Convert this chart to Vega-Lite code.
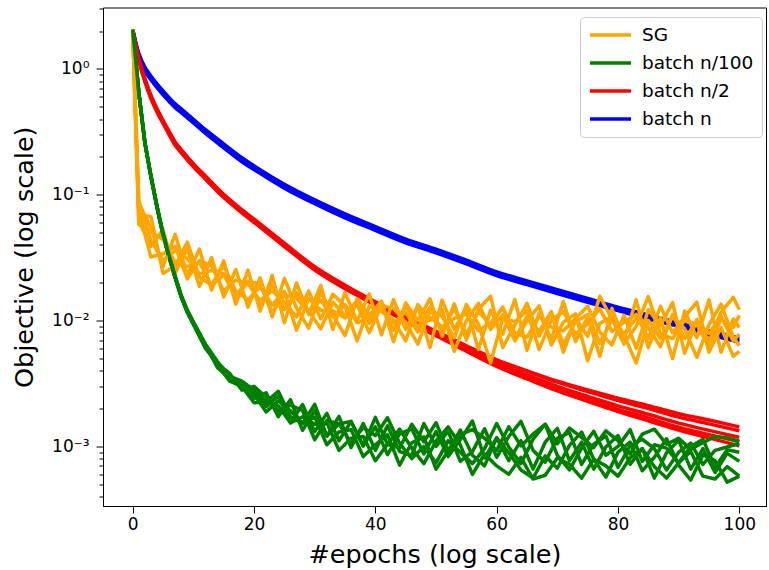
{
"$schema":"https://vega.github.io/schema/vega-lite/v6.json",
"width":663,"height":498.5,
"autosize":{"type":"none"},
"padding":{"left":103,"top":7.5,"right":3,"bottom":64},
"config":{"font":"DejaVu Sans","view":{"stroke":"black","strokeWidth":1},"axis":{"grid":false,"domainColor":"black","tickColor":"black","labelColor":"black","titleColor":"black","labelFont":"DejaVu Sans","titleFont":"DejaVu Sans","titleFontWeight":"normal","tickWidth":1,"domainWidth":1}},
"data":{"values":[
{"s":"SG","r":1,"x":0,"y":2.05},{"s":"SG","r":1,"x":1,"y":0.085},{"s":"SG","r":1,"x":3,"y":0.055},{"s":"SG","r":1,"x":5,"y":0.027},{"s":"SG","r":1,"x":7,"y":0.0485},{"s":"SG","r":1,"x":9,"y":0.023},{"s":"SG","r":1,"x":11,"y":0.037},{"s":"SG","r":1,"x":13,"y":0.0175},{"s":"SG","r":1,"x":15,"y":0.0298},{"s":"SG","r":1,"x":17,"y":0.0135},{"s":"SG","r":1,"x":19,"y":0.0252},{"s":"SG","r":1,"x":21,"y":0.0119},{"s":"SG","r":1,"x":23,"y":0.0229},{"s":"SG","r":1,"x":25,"y":0.0096},{"s":"SG","r":1,"x":27,"y":0.0199},{"s":"SG","r":1,"x":29,"y":0.0112},{"s":"SG","r":1,"x":31,"y":0.019},{"s":"SG","r":1,"x":33,"y":0.0085},{"s":"SG","r":1,"x":35,"y":0.0167},{"s":"SG","r":1,"x":37,"y":0.0099},{"s":"SG","r":1,"x":39,"y":0.0163},{"s":"SG","r":1,"x":41,"y":0.0077},{"s":"SG","r":1,"x":43,"y":0.0147},{"s":"SG","r":1,"x":45,"y":0.0085},{"s":"SG","r":1,"x":47,"y":0.013},{"s":"SG","r":1,"x":49,"y":0.0061},{"s":"SG","r":1,"x":51,"y":0.0145},{"s":"SG","r":1,"x":53,"y":0.0085},{"s":"SG","r":1,"x":55,"y":0.0127},{"s":"SG","r":1,"x":57,"y":0.0059},{"s":"SG","r":1,"x":59,"y":0.0121},{"s":"SG","r":1,"x":61,"y":0.0078},{"s":"SG","r":1,"x":63,"y":0.0147},{"s":"SG","r":1,"x":65,"y":0.0058},{"s":"SG","r":1,"x":67,"y":0.0115},{"s":"SG","r":1,"x":69,"y":0.0071},{"s":"SG","r":1,"x":71,"y":0.0142},{"s":"SG","r":1,"x":73,"y":0.0068},{"s":"SG","r":1,"x":75,"y":0.0107},{"s":"SG","r":1,"x":77,"y":0.0052},{"s":"SG","r":1,"x":79,"y":0.0125},{"s":"SG","r":1,"x":81,"y":0.007},{"s":"SG","r":1,"x":83,"y":0.0146},{"s":"SG","r":1,"x":85,"y":0.0061},{"s":"SG","r":1,"x":87,"y":0.0106},{"s":"SG","r":1,"x":89,"y":0.005},{"s":"SG","r":1,"x":91,"y":0.0119},{"s":"SG","r":1,"x":93,"y":0.0073},{"s":"SG","r":1,"x":95,"y":0.0146},{"s":"SG","r":1,"x":97,"y":0.0056},{"s":"SG","r":1,"x":99,"y":0.0103},{"s":"SG","r":1,"x":100,"y":0.0088},
{"s":"batch n/100","r":1,"x":0,"y":2.05},{"s":"batch n/100","r":1,"x":1,"y":0.65},{"s":"batch n/100","r":1,"x":2,"y":0.26},{"s":"batch n/100","r":1,"x":3,"y":0.14},{"s":"batch n/100","r":1,"x":4,"y":0.08},{"s":"batch n/100","r":1,"x":5,"y":0.048},{"s":"batch n/100","r":1,"x":6,"y":0.032},{"s":"batch n/100","r":1,"x":7,"y":0.022},{"s":"batch n/100","r":1,"x":8,"y":0.0155},{"s":"batch n/100","r":1,"x":9,"y":0.0118},{"s":"batch n/100","r":1,"x":10,"y":0.0096},{"s":"batch n/100","r":1,"x":12,"y":0.0063},{"s":"batch n/100","r":1,"x":14,"y":0.0043},{"s":"batch n/100","r":1,"x":16,"y":0.0037},{"s":"batch n/100","r":1,"x":18,"y":0.0029},{"s":"batch n/100","r":1,"x":20,"y":0.0028},{"s":"batch n/100","r":1,"x":22,"y":0.00207},{"s":"batch n/100","r":1,"x":24,"y":0.00252},{"s":"batch n/100","r":1,"x":26,"y":0.00154},{"s":"batch n/100","r":1,"x":28,"y":0.00215},{"s":"batch n/100","r":1,"x":30,"y":0.00131},{"s":"batch n/100","r":1,"x":32,"y":0.00183},{"s":"batch n/100","r":1,"x":34,"y":0.00111},{"s":"batch n/100","r":1,"x":36,"y":0.00158},{"s":"batch n/100","r":1,"x":38,"y":0.00101},{"s":"batch n/100","r":1,"x":40,"y":0.00143},{"s":"batch n/100","r":1,"x":42,"y":0.00086},{"s":"batch n/100","r":1,"x":44,"y":0.00126},{"s":"batch n/100","r":1,"x":46,"y":0.00138},{"s":"batch n/100","r":1,"x":48,"y":0.00087},{"s":"batch n/100","r":1,"x":50,"y":0.00131},{"s":"batch n/100","r":1,"x":52,"y":0.00083},{"s":"batch n/100","r":1,"x":54,"y":0.00113},{"s":"batch n/100","r":1,"x":56,"y":0.00159},{"s":"batch n/100","r":1,"x":58,"y":0.00081},{"s":"batch n/100","r":1,"x":60,"y":0.00117},{"s":"batch n/100","r":1,"x":62,"y":0.00077},{"s":"batch n/100","r":1,"x":64,"y":0.00111},{"s":"batch n/100","r":1,"x":66,"y":0.00066},{"s":"batch n/100","r":1,"x":68,"y":0.00108},{"s":"batch n/100","r":1,"x":70,"y":0.00139},{"s":"batch n/100","r":1,"x":72,"y":0.00077},{"s":"batch n/100","r":1,"x":74,"y":0.00108},{"s":"batch n/100","r":1,"x":76,"y":0.00066},{"s":"batch n/100","r":1,"x":78,"y":0.00099},{"s":"batch n/100","r":1,"x":80,"y":0.00122},{"s":"batch n/100","r":1,"x":82,"y":0.00072},{"s":"batch n/100","r":1,"x":84,"y":0.00096},{"s":"batch n/100","r":1,"x":86,"y":0.00056},{"s":"batch n/100","r":1,"x":88,"y":0.00089},{"s":"batch n/100","r":1,"x":90,"y":0.00112},{"s":"batch n/100","r":1,"x":92,"y":0.00066},{"s":"batch n/100","r":1,"x":94,"y":0.00096},{"s":"batch n/100","r":1,"x":96,"y":0.00062},{"s":"batch n/100","r":1,"x":98,"y":0.00088},{"s":"batch n/100","r":1,"x":100,"y":0.00076},
{"s":"batch n/2","r":1,"x":0,"y":2.05},{"s":"batch n/2","r":1,"x":1,"y":1.164},{"s":"batch n/2","r":1,"x":2,"y":0.795},{"s":"batch n/2","r":1,"x":3,"y":0.582},{"s":"batch n/2","r":1,"x":4,"y":0.456},{"s":"batch n/2","r":1,"x":5,"y":0.369},{"s":"batch n/2","r":1,"x":6,"y":0.301},{"s":"batch n/2","r":1,"x":7,"y":0.247},{"s":"batch n/2","r":1,"x":8,"y":0.215},{"s":"batch n/2","r":1,"x":10,"y":0.167},{"s":"batch n/2","r":1,"x":12,"y":0.133},{"s":"batch n/2","r":1,"x":15,"y":0.095},{"s":"batch n/2","r":1,"x":18,"y":0.0718},{"s":"batch n/2","r":1,"x":21,"y":0.0553},{"s":"batch n/2","r":1,"x":25,"y":0.0388},{"s":"batch n/2","r":1,"x":30,"y":0.0252},{"s":"batch n/2","r":1,"x":35,"y":0.0179},{"s":"batch n/2","r":1,"x":40,"y":0.0133},{"s":"batch n/2","r":1,"x":45,"y":0.0099},{"s":"batch n/2","r":1,"x":50,"y":0.00758},{"s":"batch n/2","r":1,"x":55,"y":0.00571},{"s":"batch n/2","r":1,"x":60,"y":0.00432},{"s":"batch n/2","r":1,"x":65,"y":0.00344},{"s":"batch n/2","r":1,"x":70,"y":0.00276},{"s":"batch n/2","r":1,"x":75,"y":0.00228},{"s":"batch n/2","r":1,"x":80,"y":0.00189},{"s":"batch n/2","r":1,"x":85,"y":0.0016},{"s":"batch n/2","r":1,"x":90,"y":0.00135},{"s":"batch n/2","r":1,"x":95,"y":0.00117},{"s":"batch n/2","r":1,"x":100,"y":0.00101},
{"s":"batch n","r":1,"x":0,"y":2.05},{"s":"batch n","r":1,"x":1,"y":1.3},{"s":"batch n","r":1,"x":2,"y":1.0},{"s":"batch n","r":1,"x":3,"y":0.85},{"s":"batch n","r":1,"x":4,"y":0.735},{"s":"batch n","r":1,"x":5,"y":0.645},{"s":"batch n","r":1,"x":6,"y":0.572},{"s":"batch n","r":1,"x":7,"y":0.51},{"s":"batch n","r":1,"x":8,"y":0.465},{"s":"batch n","r":1,"x":10,"y":0.385},{"s":"batch n","r":1,"x":12,"y":0.318},{"s":"batch n","r":1,"x":15,"y":0.245},{"s":"batch n","r":1,"x":18,"y":0.19},{"s":"batch n","r":1,"x":21,"y":0.153},{"s":"batch n","r":1,"x":25,"y":0.117},{"s":"batch n","r":1,"x":30,"y":0.088},{"s":"batch n","r":1,"x":35,"y":0.068},{"s":"batch n","r":1,"x":40,"y":0.054},{"s":"batch n","r":1,"x":45,"y":0.043},{"s":"batch n","r":1,"x":50,"y":0.0358},{"s":"batch n","r":1,"x":55,"y":0.0292},{"s":"batch n","r":1,"x":60,"y":0.0236},{"s":"batch n","r":1,"x":65,"y":0.02},{"s":"batch n","r":1,"x":70,"y":0.017},{"s":"batch n","r":1,"x":75,"y":0.0145},{"s":"batch n","r":1,"x":80,"y":0.0124},{"s":"batch n","r":1,"x":85,"y":0.0107},{"s":"batch n","r":1,"x":90,"y":0.0093},{"s":"batch n","r":1,"x":95,"y":0.008},{"s":"batch n","r":1,"x":100,"y":0.007},
{"s":"SG","r":2,"x":0,"y":2.05},{"s":"SG","r":2,"x":1,"y":0.062},{"s":"SG","r":2,"x":3,"y":0.039},{"s":"SG","r":2,"x":5,"y":0.053},{"s":"SG","r":2,"x":7,"y":0.0238},{"s":"SG","r":2,"x":9,"y":0.0375},{"s":"SG","r":2,"x":11,"y":0.0187},{"s":"SG","r":2,"x":13,"y":0.0317},{"s":"SG","r":2,"x":15,"y":0.0154},{"s":"SG","r":2,"x":17,"y":0.0255},{"s":"SG","r":2,"x":19,"y":0.0128},{"s":"SG","r":2,"x":21,"y":0.0219},{"s":"SG","r":2,"x":23,"y":0.0107},{"s":"SG","r":2,"x":25,"y":0.0216},{"s":"SG","r":2,"x":27,"y":0.0126},{"s":"SG","r":2,"x":29,"y":0.0087},{"s":"SG","r":2,"x":31,"y":0.0167},{"s":"SG","r":2,"x":33,"y":0.0111},{"s":"SG","r":2,"x":35,"y":0.0076},{"s":"SG","r":2,"x":37,"y":0.0149},{"s":"SG","r":2,"x":39,"y":0.011},{"s":"SG","r":2,"x":41,"y":0.0143},{"s":"SG","r":2,"x":43,"y":0.0068},{"s":"SG","r":2,"x":45,"y":0.0138},{"s":"SG","r":2,"x":47,"y":0.01},{"s":"SG","r":2,"x":49,"y":0.0149},{"s":"SG","r":2,"x":51,"y":0.0075},{"s":"SG","r":2,"x":53,"y":0.0136},{"s":"SG","r":2,"x":55,"y":0.007},{"s":"SG","r":2,"x":57,"y":0.0123},{"s":"SG","r":2,"x":59,"y":0.0156},{"s":"SG","r":2,"x":61,"y":0.0061},{"s":"SG","r":2,"x":63,"y":0.0092},{"s":"SG","r":2,"x":65,"y":0.0137},{"s":"SG","r":2,"x":67,"y":0.0075},{"s":"SG","r":2,"x":69,"y":0.0116},{"s":"SG","r":2,"x":71,"y":0.0056},{"s":"SG","r":2,"x":73,"y":0.0104},{"s":"SG","r":2,"x":75,"y":0.013},{"s":"SG","r":2,"x":77,"y":0.0081},{"s":"SG","r":2,"x":79,"y":0.0064},{"s":"SG","r":2,"x":81,"y":0.011},{"s":"SG","r":2,"x":83,"y":0.006},{"s":"SG","r":2,"x":85,"y":0.0122},{"s":"SG","r":2,"x":87,"y":0.0091},{"s":"SG","r":2,"x":89,"y":0.0139},{"s":"SG","r":2,"x":91,"y":0.0055},{"s":"SG","r":2,"x":93,"y":0.0102},{"s":"SG","r":2,"x":95,"y":0.0068},{"s":"SG","r":2,"x":97,"y":0.0117},{"s":"SG","r":2,"x":99,"y":0.0153},{"s":"SG","r":2,"x":100,"y":0.0122},
{"s":"batch n/100","r":2,"x":0,"y":2.05},{"s":"batch n/100","r":2,"x":1,"y":0.65},{"s":"batch n/100","r":2,"x":2,"y":0.26},{"s":"batch n/100","r":2,"x":3,"y":0.14},{"s":"batch n/100","r":2,"x":4,"y":0.081},{"s":"batch n/100","r":2,"x":5,"y":0.049},{"s":"batch n/100","r":2,"x":6,"y":0.0325},{"s":"batch n/100","r":2,"x":7,"y":0.0222},{"s":"batch n/100","r":2,"x":8,"y":0.0157},{"s":"batch n/100","r":2,"x":9,"y":0.0117},{"s":"batch n/100","r":2,"x":10,"y":0.0094},{"s":"batch n/100","r":2,"x":12,"y":0.006},{"s":"batch n/100","r":2,"x":14,"y":0.0046},{"s":"batch n/100","r":2,"x":16,"y":0.0034},{"s":"batch n/100","r":2,"x":18,"y":0.0031},{"s":"batch n/100","r":2,"x":20,"y":0.0024},{"s":"batch n/100","r":2,"x":22,"y":0.00267},{"s":"batch n/100","r":2,"x":24,"y":0.00172},{"s":"batch n/100","r":2,"x":26,"y":0.00235},{"s":"batch n/100","r":2,"x":28,"y":0.00134},{"s":"batch n/100","r":2,"x":30,"y":0.00193},{"s":"batch n/100","r":2,"x":32,"y":0.00121},{"s":"batch n/100","r":2,"x":34,"y":0.00173},{"s":"batch n/100","r":2,"x":36,"y":0.00098},{"s":"batch n/100","r":2,"x":38,"y":0.00152},{"s":"batch n/100","r":2,"x":40,"y":0.00093},{"s":"batch n/100","r":2,"x":42,"y":0.00146},{"s":"batch n/100","r":2,"x":44,"y":0.00091},{"s":"batch n/100","r":2,"x":46,"y":0.00085},{"s":"batch n/100","r":2,"x":48,"y":0.00152},{"s":"batch n/100","r":2,"x":50,"y":0.001},{"s":"batch n/100","r":2,"x":52,"y":0.00132},{"s":"batch n/100","r":2,"x":54,"y":0.00076},{"s":"batch n/100","r":2,"x":56,"y":0.00091},{"s":"batch n/100","r":2,"x":58,"y":0.00138},{"s":"batch n/100","r":2,"x":60,"y":0.00082},{"s":"batch n/100","r":2,"x":62,"y":0.0012},{"s":"batch n/100","r":2,"x":64,"y":0.00158},{"s":"batch n/100","r":2,"x":66,"y":0.00093},{"s":"batch n/100","r":2,"x":68,"y":0.00075},{"s":"batch n/100","r":2,"x":70,"y":0.00116},{"s":"batch n/100","r":2,"x":72,"y":0.00129},{"s":"batch n/100","r":2,"x":74,"y":0.00072},{"s":"batch n/100","r":2,"x":76,"y":0.00104},{"s":"batch n/100","r":2,"x":78,"y":0.00121},{"s":"batch n/100","r":2,"x":80,"y":0.00068},{"s":"batch n/100","r":2,"x":82,"y":0.00101},{"s":"batch n/100","r":2,"x":84,"y":0.00114},{"s":"batch n/100","r":2,"x":86,"y":0.00096},{"s":"batch n/100","r":2,"x":88,"y":0.00065},{"s":"batch n/100","r":2,"x":90,"y":0.0009},{"s":"batch n/100","r":2,"x":92,"y":0.00106},{"s":"batch n/100","r":2,"x":94,"y":0.00072},{"s":"batch n/100","r":2,"x":96,"y":0.00093},{"s":"batch n/100","r":2,"x":98,"y":0.00099},{"s":"batch n/100","r":2,"x":100,"y":0.00106},
{"s":"batch n/2","r":2,"x":0,"y":2.05},{"s":"batch n/2","r":2,"x":1,"y":1.2},{"s":"batch n/2","r":2,"x":2,"y":0.82},{"s":"batch n/2","r":2,"x":3,"y":0.6},{"s":"batch n/2","r":2,"x":4,"y":0.47},{"s":"batch n/2","r":2,"x":5,"y":0.38},{"s":"batch n/2","r":2,"x":6,"y":0.31},{"s":"batch n/2","r":2,"x":7,"y":0.255},{"s":"batch n/2","r":2,"x":8,"y":0.222},{"s":"batch n/2","r":2,"x":10,"y":0.172},{"s":"batch n/2","r":2,"x":12,"y":0.137},{"s":"batch n/2","r":2,"x":15,"y":0.098},{"s":"batch n/2","r":2,"x":18,"y":0.074},{"s":"batch n/2","r":2,"x":21,"y":0.057},{"s":"batch n/2","r":2,"x":25,"y":0.04},{"s":"batch n/2","r":2,"x":30,"y":0.026},{"s":"batch n/2","r":2,"x":35,"y":0.0185},{"s":"batch n/2","r":2,"x":40,"y":0.0137},{"s":"batch n/2","r":2,"x":45,"y":0.0102},{"s":"batch n/2","r":2,"x":50,"y":0.00782},{"s":"batch n/2","r":2,"x":55,"y":0.00588},{"s":"batch n/2","r":2,"x":60,"y":0.00446},{"s":"batch n/2","r":2,"x":65,"y":0.00357},{"s":"batch n/2","r":2,"x":70,"y":0.00288},{"s":"batch n/2","r":2,"x":75,"y":0.00238},{"s":"batch n/2","r":2,"x":80,"y":0.00197},{"s":"batch n/2","r":2,"x":85,"y":0.00168},{"s":"batch n/2","r":2,"x":90,"y":0.00142},{"s":"batch n/2","r":2,"x":95,"y":0.00124},{"s":"batch n/2","r":2,"x":100,"y":0.00109},
{"s":"batch n","r":2,"x":0,"y":2.05},{"s":"batch n","r":2,"x":1,"y":1.33},{"s":"batch n","r":2,"x":2,"y":1.035},{"s":"batch n","r":2,"x":3,"y":0.88},{"s":"batch n","r":2,"x":4,"y":0.761},{"s":"batch n","r":2,"x":5,"y":0.668},{"s":"batch n","r":2,"x":6,"y":0.592},{"s":"batch n","r":2,"x":7,"y":0.528},{"s":"batch n","r":2,"x":8,"y":0.481},{"s":"batch n","r":2,"x":10,"y":0.398},{"s":"batch n","r":2,"x":12,"y":0.329},{"s":"batch n","r":2,"x":15,"y":0.254},{"s":"batch n","r":2,"x":18,"y":0.197},{"s":"batch n","r":2,"x":21,"y":0.158},{"s":"batch n","r":2,"x":25,"y":0.121},{"s":"batch n","r":2,"x":30,"y":0.091},{"s":"batch n","r":2,"x":35,"y":0.0704},{"s":"batch n","r":2,"x":40,"y":0.0559},{"s":"batch n","r":2,"x":45,"y":0.0445},{"s":"batch n","r":2,"x":50,"y":0.037},{"s":"batch n","r":2,"x":55,"y":0.0302},{"s":"batch n","r":2,"x":60,"y":0.0244},{"s":"batch n","r":2,"x":65,"y":0.0207},{"s":"batch n","r":2,"x":70,"y":0.0176},{"s":"batch n","r":2,"x":75,"y":0.015},{"s":"batch n","r":2,"x":80,"y":0.0128},{"s":"batch n","r":2,"x":85,"y":0.0111},{"s":"batch n","r":2,"x":90,"y":0.0096},{"s":"batch n","r":2,"x":95,"y":0.0083},{"s":"batch n","r":2,"x":100,"y":0.00725},
{"s":"SG","r":3,"x":0,"y":2.05},{"s":"SG","r":3,"x":1,"y":0.075},{"s":"SG","r":3,"x":3,"y":0.032},{"s":"SG","r":3,"x":5,"y":0.034},{"s":"SG","r":3,"x":7,"y":0.039},{"s":"SG","r":3,"x":9,"y":0.0215},{"s":"SG","r":3,"x":11,"y":0.03},{"s":"SG","r":3,"x":13,"y":0.0272},{"s":"SG","r":3,"x":15,"y":0.0172},{"s":"SG","r":3,"x":17,"y":0.021},{"s":"SG","r":3,"x":19,"y":0.0196},{"s":"SG","r":3,"x":21,"y":0.0145},{"s":"SG","r":3,"x":23,"y":0.0172},{"s":"SG","r":3,"x":25,"y":0.014},{"s":"SG","r":3,"x":27,"y":0.0107},{"s":"SG","r":3,"x":29,"y":0.0172},{"s":"SG","r":3,"x":31,"y":0.0103},{"s":"SG","r":3,"x":33,"y":0.0162},{"s":"SG","r":3,"x":35,"y":0.013},{"s":"SG","r":3,"x":37,"y":0.0069},{"s":"SG","r":3,"x":39,"y":0.0131},{"s":"SG","r":3,"x":41,"y":0.0118},{"s":"SG","r":3,"x":43,"y":0.0101},{"s":"SG","r":3,"x":45,"y":0.0069},{"s":"SG","r":3,"x":47,"y":0.0134},{"s":"SG","r":3,"x":49,"y":0.01},{"s":"SG","r":3,"x":51,"y":0.0122},{"s":"SG","r":3,"x":53,"y":0.0057},{"s":"SG","r":3,"x":55,"y":0.01},{"s":"SG","r":3,"x":57,"y":0.0137},{"s":"SG","r":3,"x":59,"y":0.0085},{"s":"SG","r":3,"x":61,"y":0.0111},{"s":"SG","r":3,"x":63,"y":0.0069},{"s":"SG","r":3,"x":65,"y":0.0099},{"s":"SG","r":3,"x":67,"y":0.0131},{"s":"SG","r":3,"x":69,"y":0.0064},{"s":"SG","r":3,"x":71,"y":0.0097},{"s":"SG","r":3,"x":73,"y":0.0113},{"s":"SG","r":3,"x":75,"y":0.0048},{"s":"SG","r":3,"x":77,"y":0.0095},{"s":"SG","r":3,"x":79,"y":0.0109},{"s":"SG","r":3,"x":81,"y":0.0077},{"s":"SG","r":3,"x":83,"y":0.0046},{"s":"SG","r":3,"x":85,"y":0.01},{"s":"SG","r":3,"x":87,"y":0.0072},{"s":"SG","r":3,"x":89,"y":0.0107},{"s":"SG","r":3,"x":91,"y":0.0086},{"s":"SG","r":3,"x":93,"y":0.0051},{"s":"SG","r":3,"x":95,"y":0.0093},{"s":"SG","r":3,"x":97,"y":0.0135},{"s":"SG","r":3,"x":99,"y":0.0074},{"s":"SG","r":3,"x":100,"y":0.0063},
{"s":"batch n/100","r":3,"x":0,"y":2.05},{"s":"batch n/100","r":3,"x":1,"y":0.65},{"s":"batch n/100","r":3,"x":2,"y":0.258},{"s":"batch n/100","r":3,"x":3,"y":0.139},{"s":"batch n/100","r":3,"x":4,"y":0.079},{"s":"batch n/100","r":3,"x":5,"y":0.0475},{"s":"batch n/100","r":3,"x":6,"y":0.0318},{"s":"batch n/100","r":3,"x":7,"y":0.0218},{"s":"batch n/100","r":3,"x":8,"y":0.0154},{"s":"batch n/100","r":3,"x":9,"y":0.012},{"s":"batch n/100","r":3,"x":10,"y":0.0097},{"s":"batch n/100","r":3,"x":12,"y":0.0064},{"s":"batch n/100","r":3,"x":14,"y":0.0042},{"s":"batch n/100","r":3,"x":16,"y":0.0035},{"s":"batch n/100","r":3,"x":18,"y":0.0032},{"s":"batch n/100","r":3,"x":20,"y":0.0026},{"s":"batch n/100","r":3,"x":22,"y":0.00188},{"s":"batch n/100","r":3,"x":24,"y":0.0023},{"s":"batch n/100","r":3,"x":26,"y":0.00192},{"s":"batch n/100","r":3,"x":28,"y":0.00152},{"s":"batch n/100","r":3,"x":30,"y":0.00171},{"s":"batch n/100","r":3,"x":32,"y":0.00103},{"s":"batch n/100","r":3,"x":34,"y":0.0013},{"s":"batch n/100","r":3,"x":36,"y":0.00136},{"s":"batch n/100","r":3,"x":38,"y":0.00083},{"s":"batch n/100","r":3,"x":40,"y":0.00103},{"s":"batch n/100","r":3,"x":42,"y":0.00124},{"s":"batch n/100","r":3,"x":44,"y":0.00071},{"s":"batch n/100","r":3,"x":46,"y":0.00107},{"s":"batch n/100","r":3,"x":48,"y":0.00119},{"s":"batch n/100","r":3,"x":50,"y":0.00066},{"s":"batch n/100","r":3,"x":52,"y":0.00092},{"s":"batch n/100","r":3,"x":54,"y":0.00135},{"s":"batch n/100","r":3,"x":56,"y":0.00085},{"s":"batch n/100","r":3,"x":58,"y":0.0007},{"s":"batch n/100","r":3,"x":60,"y":0.00117},{"s":"batch n/100","r":3,"x":62,"y":0.00089},{"s":"batch n/100","r":3,"x":64,"y":0.00065},{"s":"batch n/100","r":3,"x":66,"y":0.00056},{"s":"batch n/100","r":3,"x":68,"y":0.00084},{"s":"batch n/100","r":3,"x":70,"y":0.00067},{"s":"batch n/100","r":3,"x":72,"y":0.00102},{"s":"batch n/100","r":3,"x":74,"y":0.0013},{"s":"batch n/100","r":3,"x":76,"y":0.00079},{"s":"batch n/100","r":3,"x":78,"y":0.00057},{"s":"batch n/100","r":3,"x":80,"y":0.0009},{"s":"batch n/100","r":3,"x":82,"y":0.00108},{"s":"batch n/100","r":3,"x":84,"y":0.00064},{"s":"batch n/100","r":3,"x":86,"y":0.00082},{"s":"batch n/100","r":3,"x":88,"y":0.00115},{"s":"batch n/100","r":3,"x":90,"y":0.00071},{"s":"batch n/100","r":3,"x":92,"y":0.00054},{"s":"batch n/100","r":3,"x":94,"y":0.00086},{"s":"batch n/100","r":3,"x":96,"y":0.00077},{"s":"batch n/100","r":3,"x":98,"y":0.00052},{"s":"batch n/100","r":3,"x":100,"y":0.00058},
{"s":"batch n/2","r":3,"x":0,"y":2.05},{"s":"batch n/2","r":3,"x":1,"y":1.21},{"s":"batch n/2","r":3,"x":2,"y":0.83},{"s":"batch n/2","r":3,"x":3,"y":0.605},{"s":"batch n/2","r":3,"x":4,"y":0.475},{"s":"batch n/2","r":3,"x":5,"y":0.383},{"s":"batch n/2","r":3,"x":6,"y":0.313},{"s":"batch n/2","r":3,"x":7,"y":0.257},{"s":"batch n/2","r":3,"x":8,"y":0.224},{"s":"batch n/2","r":3,"x":10,"y":0.174},{"s":"batch n/2","r":3,"x":12,"y":0.138},{"s":"batch n/2","r":3,"x":15,"y":0.0985},{"s":"batch n/2","r":3,"x":18,"y":0.0745},{"s":"batch n/2","r":3,"x":21,"y":0.0572},{"s":"batch n/2","r":3,"x":25,"y":0.0403},{"s":"batch n/2","r":3,"x":30,"y":0.0262},{"s":"batch n/2","r":3,"x":35,"y":0.0186},{"s":"batch n/2","r":3,"x":40,"y":0.0139},{"s":"batch n/2","r":3,"x":45,"y":0.0104},{"s":"batch n/2","r":3,"x":50,"y":0.0079},{"s":"batch n/2","r":3,"x":55,"y":0.0061},{"s":"batch n/2","r":3,"x":60,"y":0.0046},{"s":"batch n/2","r":3,"x":65,"y":0.0037},{"s":"batch n/2","r":3,"x":70,"y":0.003},{"s":"batch n/2","r":3,"x":75,"y":0.0025},{"s":"batch n/2","r":3,"x":80,"y":0.0021},{"s":"batch n/2","r":3,"x":85,"y":0.0018},{"s":"batch n/2","r":3,"x":90,"y":0.00153},{"s":"batch n/2","r":3,"x":95,"y":0.00134},{"s":"batch n/2","r":3,"x":100,"y":0.00118},
{"s":"batch n","r":3,"x":0,"y":2.05},{"s":"batch n","r":3,"x":1,"y":1.27},{"s":"batch n","r":3,"x":2,"y":0.965},{"s":"batch n","r":3,"x":3,"y":0.82},{"s":"batch n","r":3,"x":4,"y":0.709},{"s":"batch n","r":3,"x":5,"y":0.622},{"s":"batch n","r":3,"x":6,"y":0.552},{"s":"batch n","r":3,"x":7,"y":0.492},{"s":"batch n","r":3,"x":8,"y":0.449},{"s":"batch n","r":3,"x":10,"y":0.372},{"s":"batch n","r":3,"x":12,"y":0.307},{"s":"batch n","r":3,"x":15,"y":0.236},{"s":"batch n","r":3,"x":18,"y":0.183},{"s":"batch n","r":3,"x":21,"y":0.148},{"s":"batch n","r":3,"x":25,"y":0.113},{"s":"batch n","r":3,"x":30,"y":0.085},{"s":"batch n","r":3,"x":35,"y":0.0656},{"s":"batch n","r":3,"x":40,"y":0.0521},{"s":"batch n","r":3,"x":45,"y":0.0415},{"s":"batch n","r":3,"x":50,"y":0.0345},{"s":"batch n","r":3,"x":55,"y":0.0282},{"s":"batch n","r":3,"x":60,"y":0.0228},{"s":"batch n","r":3,"x":65,"y":0.0193},{"s":"batch n","r":3,"x":70,"y":0.0164},{"s":"batch n","r":3,"x":75,"y":0.014},{"s":"batch n","r":3,"x":80,"y":0.012},{"s":"batch n","r":3,"x":85,"y":0.0103},{"s":"batch n","r":3,"x":90,"y":0.009},{"s":"batch n","r":3,"x":95,"y":0.0077},{"s":"batch n","r":3,"x":100,"y":0.00675},
{"s":"SG","r":4,"x":0,"y":2.05},{"s":"SG","r":4,"x":1,"y":0.07},{"s":"SG","r":4,"x":3,"y":0.067},{"s":"SG","r":4,"x":5,"y":0.0237},{"s":"SG","r":4,"x":7,"y":0.0273},{"s":"SG","r":4,"x":9,"y":0.042},{"s":"SG","r":4,"x":11,"y":0.0221},{"s":"SG","r":4,"x":13,"y":0.0192},{"s":"SG","r":4,"x":15,"y":0.0274},{"s":"SG","r":4,"x":17,"y":0.0171},{"s":"SG","r":4,"x":19,"y":0.0146},{"s":"SG","r":4,"x":21,"y":0.0186},{"s":"SG","r":4,"x":23,"y":0.0133},{"s":"SG","r":4,"x":25,"y":0.0171},{"s":"SG","r":4,"x":27,"y":0.0084},{"s":"SG","r":4,"x":29,"y":0.015},{"s":"SG","r":4,"x":31,"y":0.0121},{"s":"SG","r":4,"x":33,"y":0.012},{"s":"SG","r":4,"x":35,"y":0.0105},{"s":"SG","r":4,"x":37,"y":0.0134},{"s":"SG","r":4,"x":39,"y":0.008},{"s":"SG","r":4,"x":41,"y":0.0132},{"s":"SG","r":4,"x":43,"y":0.0125},{"s":"SG","r":4,"x":45,"y":0.0097},{"s":"SG","r":4,"x":47,"y":0.0065},{"s":"SG","r":4,"x":49,"y":0.012},{"s":"SG","r":4,"x":51,"y":0.0108},{"s":"SG","r":4,"x":53,"y":0.0073},{"s":"SG","r":4,"x":55,"y":0.0134},{"s":"SG","r":4,"x":57,"y":0.0094},{"s":"SG","r":4,"x":59,"y":0.0046},{"s":"SG","r":4,"x":61,"y":0.0105},{"s":"SG","r":4,"x":63,"y":0.0098},{"s":"SG","r":4,"x":65,"y":0.012},{"s":"SG","r":4,"x":67,"y":0.0059},{"s":"SG","r":4,"x":69,"y":0.0101},{"s":"SG","r":4,"x":71,"y":0.0118},{"s":"SG","r":4,"x":73,"y":0.0078},{"s":"SG","r":4,"x":75,"y":0.0094},{"s":"SG","r":4,"x":77,"y":0.0124},{"s":"SG","r":4,"x":79,"y":0.0082},{"s":"SG","r":4,"x":81,"y":0.0097},{"s":"SG","r":4,"x":83,"y":0.0112},{"s":"SG","r":4,"x":85,"y":0.0072},{"s":"SG","r":4,"x":87,"y":0.013},{"s":"SG","r":4,"x":89,"y":0.008},{"s":"SG","r":4,"x":91,"y":0.0107},{"s":"SG","r":4,"x":93,"y":0.014},{"s":"SG","r":4,"x":95,"y":0.0056},{"s":"SG","r":4,"x":97,"y":0.0088},{"s":"SG","r":4,"x":99,"y":0.0052},{"s":"SG","r":4,"x":100,"y":0.0057},
{"s":"batch n/100","r":4,"x":0,"y":2.05},{"s":"batch n/100","r":4,"x":1,"y":0.65},{"s":"batch n/100","r":4,"x":2,"y":0.262},{"s":"batch n/100","r":4,"x":3,"y":0.141},{"s":"batch n/100","r":4,"x":4,"y":0.0805},{"s":"batch n/100","r":4,"x":5,"y":0.0485},{"s":"batch n/100","r":4,"x":6,"y":0.0322},{"s":"batch n/100","r":4,"x":7,"y":0.0221},{"s":"batch n/100","r":4,"x":8,"y":0.0153},{"s":"batch n/100","r":4,"x":9,"y":0.0116},{"s":"batch n/100","r":4,"x":10,"y":0.0093},{"s":"batch n/100","r":4,"x":12,"y":0.0061},{"s":"batch n/100","r":4,"x":14,"y":0.0045},{"s":"batch n/100","r":4,"x":16,"y":0.0038},{"s":"batch n/100","r":4,"x":18,"y":0.0028},{"s":"batch n/100","r":4,"x":20,"y":0.003},{"s":"batch n/100","r":4,"x":22,"y":0.00246},{"s":"batch n/100","r":4,"x":24,"y":0.0019},{"s":"batch n/100","r":4,"x":26,"y":0.00213},{"s":"batch n/100","r":4,"x":28,"y":0.00193},{"s":"batch n/100","r":4,"x":30,"y":0.00113},{"s":"batch n/100","r":4,"x":32,"y":0.00161},{"s":"batch n/100","r":4,"x":34,"y":0.00151},{"s":"batch n/100","r":4,"x":36,"y":0.00107},{"s":"batch n/100","r":4,"x":38,"y":0.00141},{"s":"batch n/100","r":4,"x":40,"y":0.00122},{"s":"batch n/100","r":4,"x":42,"y":0.00169},{"s":"batch n/100","r":4,"x":44,"y":0.00106},{"s":"batch n/100","r":4,"x":46,"y":0.0008},{"s":"batch n/100","r":4,"x":48,"y":0.001},{"s":"batch n/100","r":4,"x":50,"y":0.00074},{"s":"batch n/100","r":4,"x":52,"y":0.00111},{"s":"batch n/100","r":4,"x":54,"y":0.0009},{"s":"batch n/100","r":4,"x":56,"y":0.00073},{"s":"batch n/100","r":4,"x":58,"y":0.00096},{"s":"batch n/100","r":4,"x":60,"y":0.00152},{"s":"batch n/100","r":4,"x":62,"y":0.00099},{"s":"batch n/100","r":4,"x":64,"y":0.00073},{"s":"batch n/100","r":4,"x":66,"y":0.00114},{"s":"batch n/100","r":4,"x":68,"y":0.0015},{"s":"batch n/100","r":4,"x":70,"y":0.00085},{"s":"batch n/100","r":4,"x":72,"y":0.00065},{"s":"batch n/100","r":4,"x":74,"y":0.00097},{"s":"batch n/100","r":4,"x":76,"y":0.00132},{"s":"batch n/100","r":4,"x":78,"y":0.00085},{"s":"batch n/100","r":4,"x":80,"y":0.001},{"s":"batch n/100","r":4,"x":82,"y":0.00136},{"s":"batch n/100","r":4,"x":84,"y":0.00076},{"s":"batch n/100","r":4,"x":86,"y":0.00103},{"s":"batch n/100","r":4,"x":88,"y":0.00097},{"s":"batch n/100","r":4,"x":90,"y":0.00074},{"s":"batch n/100","r":4,"x":92,"y":0.001},{"s":"batch n/100","r":4,"x":94,"y":0.00114},{"s":"batch n/100","r":4,"x":96,"y":0.00068},{"s":"batch n/100","r":4,"x":98,"y":0.00094},{"s":"batch n/100","r":4,"x":100,"y":0.0009},
{"s":"batch n/2","r":4,"x":0,"y":2.05},{"s":"batch n/2","r":4,"x":1,"y":1.236},{"s":"batch n/2","r":4,"x":2,"y":0.845},{"s":"batch n/2","r":4,"x":3,"y":0.618},{"s":"batch n/2","r":4,"x":4,"y":0.484},{"s":"batch n/2","r":4,"x":5,"y":0.391},{"s":"batch n/2","r":4,"x":6,"y":0.319},{"s":"batch n/2","r":4,"x":7,"y":0.263},{"s":"batch n/2","r":4,"x":8,"y":0.229},{"s":"batch n/2","r":4,"x":10,"y":0.177},{"s":"batch n/2","r":4,"x":12,"y":0.141},{"s":"batch n/2","r":4,"x":15,"y":0.101},{"s":"batch n/2","r":4,"x":18,"y":0.0762},{"s":"batch n/2","r":4,"x":21,"y":0.0587},{"s":"batch n/2","r":4,"x":25,"y":0.0412},{"s":"batch n/2","r":4,"x":30,"y":0.0268},{"s":"batch n/2","r":4,"x":35,"y":0.0191},{"s":"batch n/2","r":4,"x":40,"y":0.0141},{"s":"batch n/2","r":4,"x":45,"y":0.0106},{"s":"batch n/2","r":4,"x":50,"y":0.00822},{"s":"batch n/2","r":4,"x":55,"y":0.0063},{"s":"batch n/2","r":4,"x":60,"y":0.00488},{"s":"batch n/2","r":4,"x":65,"y":0.00396},{"s":"batch n/2","r":4,"x":70,"y":0.00324},{"s":"batch n/2","r":4,"x":75,"y":0.00273},{"s":"batch n/2","r":4,"x":80,"y":0.00231},{"s":"batch n/2","r":4,"x":85,"y":0.002},{"s":"batch n/2","r":4,"x":90,"y":0.00171},{"s":"batch n/2","r":4,"x":95,"y":0.00151},{"s":"batch n/2","r":4,"x":100,"y":0.00133},
{"s":"SG","r":5,"x":0,"y":2.05},{"s":"SG","r":5,"x":1,"y":0.058},{"s":"SG","r":5,"x":3,"y":0.051},{"s":"SG","r":5,"x":5,"y":0.044},{"s":"SG","r":5,"x":7,"y":0.029},{"s":"SG","r":5,"x":9,"y":0.027},{"s":"SG","r":5,"x":11,"y":0.029},{"s":"SG","r":5,"x":13,"y":0.019},{"s":"SG","r":5,"x":15,"y":0.023},{"s":"SG","r":5,"x":17,"y":0.016},{"s":"SG","r":5,"x":19,"y":0.0205},{"s":"SG","r":5,"x":21,"y":0.0135},{"s":"SG","r":5,"x":23,"y":0.0194},{"s":"SG","r":5,"x":25,"y":0.0122},{"s":"SG","r":5,"x":27,"y":0.0166},{"s":"SG","r":5,"x":29,"y":0.012},{"s":"SG","r":5,"x":31,"y":0.0086},{"s":"SG","r":5,"x":33,"y":0.014},{"s":"SG","r":5,"x":35,"y":0.011},{"s":"SG","r":5,"x":37,"y":0.0145},{"s":"SG","r":5,"x":39,"y":0.0095},{"s":"SG","r":5,"x":41,"y":0.0135},{"s":"SG","r":5,"x":43,"y":0.0084},{"s":"SG","r":5,"x":45,"y":0.0132},{"s":"SG","r":5,"x":47,"y":0.0088},{"s":"SG","r":5,"x":49,"y":0.0128},{"s":"SG","r":5,"x":51,"y":0.0082},{"s":"SG","r":5,"x":53,"y":0.0125},{"s":"SG","r":5,"x":55,"y":0.0078},{"s":"SG","r":5,"x":57,"y":0.0118},{"s":"SG","r":5,"x":59,"y":0.0092},{"s":"SG","r":5,"x":61,"y":0.0128},{"s":"SG","r":5,"x":63,"y":0.0072},{"s":"SG","r":5,"x":65,"y":0.0108},{"s":"SG","r":5,"x":67,"y":0.0082},{"s":"SG","r":5,"x":69,"y":0.0118},{"s":"SG","r":5,"x":71,"y":0.0065},{"s":"SG","r":5,"x":73,"y":0.0098},{"s":"SG","r":5,"x":75,"y":0.0112},{"s":"SG","r":5,"x":77,"y":0.0066},{"s":"SG","r":5,"x":79,"y":0.0102},{"s":"SG","r":5,"x":81,"y":0.0078},{"s":"SG","r":5,"x":83,"y":0.0105},{"s":"SG","r":5,"x":85,"y":0.0088},{"s":"SG","r":5,"x":87,"y":0.0062},{"s":"SG","r":5,"x":89,"y":0.0112},{"s":"SG","r":5,"x":91,"y":0.0072},{"s":"SG","r":5,"x":93,"y":0.0098},{"s":"SG","r":5,"x":95,"y":0.0079},{"s":"SG","r":5,"x":97,"y":0.0108},{"s":"SG","r":5,"x":99,"y":0.0069},{"s":"SG","r":5,"x":100,"y":0.0078},
{"s":"batch n/100","r":5,"x":0,"y":2.05},{"s":"batch n/100","r":5,"x":1,"y":0.65},{"s":"batch n/100","r":5,"x":2,"y":0.26},{"s":"batch n/100","r":5,"x":3,"y":0.14},{"s":"batch n/100","r":5,"x":4,"y":0.08},{"s":"batch n/100","r":5,"x":5,"y":0.048},{"s":"batch n/100","r":5,"x":6,"y":0.032},{"s":"batch n/100","r":5,"x":7,"y":0.022},{"s":"batch n/100","r":5,"x":8,"y":0.0155},{"s":"batch n/100","r":5,"x":9,"y":0.0118},{"s":"batch n/100","r":5,"x":10,"y":0.0095},{"s":"batch n/100","r":5,"x":12,"y":0.0062},{"s":"batch n/100","r":5,"x":14,"y":0.0044},{"s":"batch n/100","r":5,"x":16,"y":0.0033},{"s":"batch n/100","r":5,"x":18,"y":0.003},{"s":"batch n/100","r":5,"x":20,"y":0.00222},{"s":"batch n/100","r":5,"x":22,"y":0.00226},{"s":"batch n/100","r":5,"x":24,"y":0.0021},{"s":"batch n/100","r":5,"x":26,"y":0.00154},{"s":"batch n/100","r":5,"x":28,"y":0.00172},{"s":"batch n/100","r":5,"x":30,"y":0.0015},{"s":"batch n/100","r":5,"x":32,"y":0.00155},{"s":"batch n/100","r":5,"x":34,"y":0.00093},{"s":"batch n/100","r":5,"x":36,"y":0.00116},{"s":"batch n/100","r":5,"x":38,"y":0.0012},{"s":"batch n/100","r":5,"x":40,"y":0.00077},{"s":"batch n/100","r":5,"x":42,"y":0.00104},{"s":"batch n/100","r":5,"x":44,"y":0.00137},{"s":"batch n/100","r":5,"x":46,"y":0.00097},{"s":"batch n/100","r":5,"x":48,"y":0.00073},{"s":"batch n/100","r":5,"x":50,"y":0.0011},{"s":"batch n/100","r":5,"x":52,"y":0.00143},{"s":"batch n/100","r":5,"x":54,"y":0.00103},{"s":"batch n/100","r":5,"x":56,"y":0.0006},{"s":"batch n/100","r":5,"x":58,"y":0.00087},{"s":"batch n/100","r":5,"x":60,"y":0.0007},{"s":"batch n/100","r":5,"x":62,"y":0.0006},{"s":"batch n/100","r":5,"x":64,"y":0.00082},{"s":"batch n/100","r":5,"x":66,"y":0.00055},{"s":"batch n/100","r":5,"x":68,"y":0.00059},{"s":"batch n/100","r":5,"x":70,"y":0.00081},{"s":"batch n/100","r":5,"x":72,"y":0.00072},{"s":"batch n/100","r":5,"x":74,"y":0.00056},{"s":"batch n/100","r":5,"x":76,"y":0.00079},{"s":"batch n/100","r":5,"x":78,"y":0.0007},{"s":"batch n/100","r":5,"x":80,"y":0.00058},{"s":"batch n/100","r":5,"x":82,"y":0.00081},{"s":"batch n/100","r":5,"x":84,"y":0.00096},{"s":"batch n/100","r":5,"x":86,"y":0.00069},{"s":"batch n/100","r":5,"x":88,"y":0.00056},{"s":"batch n/100","r":5,"x":90,"y":0.00074},{"s":"batch n/100","r":5,"x":92,"y":0.00091},{"s":"batch n/100","r":5,"x":94,"y":0.00058},{"s":"batch n/100","r":5,"x":96,"y":0.00055},{"s":"batch n/100","r":5,"x":98,"y":0.00069},{"s":"batch n/100","r":5,"x":100,"y":0.00058},
{"s":"batch n/2","r":5,"x":0,"y":2.05},{"s":"batch n/2","r":5,"x":1,"y":1.18},{"s":"batch n/2","r":5,"x":2,"y":0.808},{"s":"batch n/2","r":5,"x":3,"y":0.591},{"s":"batch n/2","r":5,"x":4,"y":0.463},{"s":"batch n/2","r":5,"x":5,"y":0.374},{"s":"batch n/2","r":5,"x":6,"y":0.305},{"s":"batch n/2","r":5,"x":7,"y":0.251},{"s":"batch n/2","r":5,"x":8,"y":0.219},{"s":"batch n/2","r":5,"x":10,"y":0.169},{"s":"batch n/2","r":5,"x":12,"y":0.135},{"s":"batch n/2","r":5,"x":15,"y":0.0965},{"s":"batch n/2","r":5,"x":18,"y":0.0729},{"s":"batch n/2","r":5,"x":21,"y":0.0561},{"s":"batch n/2","r":5,"x":25,"y":0.0394},{"s":"batch n/2","r":5,"x":30,"y":0.0256},{"s":"batch n/2","r":5,"x":35,"y":0.0182},{"s":"batch n/2","r":5,"x":40,"y":0.0135},{"s":"batch n/2","r":5,"x":45,"y":0.0102},{"s":"batch n/2","r":5,"x":50,"y":0.0079},{"s":"batch n/2","r":5,"x":55,"y":0.00615},{"s":"batch n/2","r":5,"x":60,"y":0.00483},{"s":"batch n/2","r":5,"x":65,"y":0.00398},{"s":"batch n/2","r":5,"x":70,"y":0.0033},{"s":"batch n/2","r":5,"x":75,"y":0.00281},{"s":"batch n/2","r":5,"x":80,"y":0.00242},{"s":"batch n/2","r":5,"x":85,"y":0.00211},{"s":"batch n/2","r":5,"x":90,"y":0.00182},{"s":"batch n/2","r":5,"x":95,"y":0.00162},{"s":"batch n/2","r":5,"x":100,"y":0.00143},
{"s":"SG","r":6,"x":0,"y":2.05},{"s":"SG","r":6,"x":1,"y":0.09},{"s":"SG","r":6,"x":3,"y":0.043},{"s":"SG","r":6,"x":5,"y":0.03},{"s":"SG","r":6,"x":7,"y":0.036},{"s":"SG","r":6,"x":9,"y":0.031},{"s":"SG","r":6,"x":11,"y":0.0235},{"s":"SG","r":6,"x":13,"y":0.025},{"s":"SG","r":6,"x":15,"y":0.0235},{"s":"SG","r":6,"x":17,"y":0.0152},{"s":"SG","r":6,"x":19,"y":0.0205},{"s":"SG","r":6,"x":21,"y":0.0196},{"s":"SG","r":6,"x":23,"y":0.0115},{"s":"SG","r":6,"x":25,"y":0.016},{"s":"SG","r":6,"x":27,"y":0.0151},{"s":"SG","r":6,"x":29,"y":0.0117},{"s":"SG","r":6,"x":31,"y":0.0145},{"s":"SG","r":6,"x":33,"y":0.0107},{"s":"SG","r":6,"x":35,"y":0.0134},{"s":"SG","r":6,"x":37,"y":0.0096},{"s":"SG","r":6,"x":39,"y":0.0105},{"s":"SG","r":6,"x":41,"y":0.0122},{"s":"SG","r":6,"x":43,"y":0.0096},{"s":"SG","r":6,"x":45,"y":0.0117},{"s":"SG","r":6,"x":47,"y":0.0081},{"s":"SG","r":6,"x":49,"y":0.0106},{"s":"SG","r":6,"x":51,"y":0.0089},{"s":"SG","r":6,"x":53,"y":0.0104},{"s":"SG","r":6,"x":55,"y":0.0112},{"s":"SG","r":6,"x":57,"y":0.0083},{"s":"SG","r":6,"x":59,"y":0.0096},{"s":"SG","r":6,"x":61,"y":0.0127},{"s":"SG","r":6,"x":63,"y":0.0079},{"s":"SG","r":6,"x":65,"y":0.0074},{"s":"SG","r":6,"x":67,"y":0.0108},{"s":"SG","r":6,"x":69,"y":0.0089},{"s":"SG","r":6,"x":71,"y":0.0083},{"s":"SG","r":6,"x":73,"y":0.0104},{"s":"SG","r":6,"x":75,"y":0.0075},{"s":"SG","r":6,"x":77,"y":0.0156},{"s":"SG","r":6,"x":79,"y":0.0103},{"s":"SG","r":6,"x":81,"y":0.0065},{"s":"SG","r":6,"x":83,"y":0.009},{"s":"SG","r":6,"x":85,"y":0.0155},{"s":"SG","r":6,"x":87,"y":0.0079},{"s":"SG","r":6,"x":89,"y":0.0072},{"s":"SG","r":6,"x":91,"y":0.0101},{"s":"SG","r":6,"x":93,"y":0.0093},{"s":"SG","r":6,"x":95,"y":0.0062},{"s":"SG","r":6,"x":97,"y":0.0103},{"s":"SG","r":6,"x":99,"y":0.0088},{"s":"SG","r":6,"x":100,"y":0.011},
{"s":"batch n/100","r":6,"x":0,"y":2.05},{"s":"batch n/100","r":6,"x":1,"y":0.65},{"s":"batch n/100","r":6,"x":2,"y":0.263},{"s":"batch n/100","r":6,"x":3,"y":0.142},{"s":"batch n/100","r":6,"x":4,"y":0.082},{"s":"batch n/100","r":6,"x":5,"y":0.0495},{"s":"batch n/100","r":6,"x":6,"y":0.033},{"s":"batch n/100","r":6,"x":7,"y":0.0226},{"s":"batch n/100","r":6,"x":8,"y":0.0159},{"s":"batch n/100","r":6,"x":9,"y":0.0121},{"s":"batch n/100","r":6,"x":10,"y":0.0098},{"s":"batch n/100","r":6,"x":12,"y":0.0065},{"s":"batch n/100","r":6,"x":14,"y":0.0047},{"s":"batch n/100","r":6,"x":16,"y":0.0036},{"s":"batch n/100","r":6,"x":18,"y":0.0033},{"s":"batch n/100","r":6,"x":20,"y":0.0028},{"s":"batch n/100","r":6,"x":22,"y":0.00226},{"s":"batch n/100","r":6,"x":24,"y":0.00274},{"s":"batch n/100","r":6,"x":26,"y":0.00172},{"s":"batch n/100","r":6,"x":28,"y":0.00152},{"s":"batch n/100","r":6,"x":30,"y":0.00216},{"s":"batch n/100","r":6,"x":32,"y":0.00121},{"s":"batch n/100","r":6,"x":34,"y":0.00151},{"s":"batch n/100","r":6,"x":36,"y":0.00158},{"s":"batch n/100","r":6,"x":38,"y":0.00101},{"s":"batch n/100","r":6,"x":40,"y":0.0017},{"s":"batch n/100","r":6,"x":42,"y":0.00104},{"s":"batch n/100","r":6,"x":44,"y":0.00097},{"s":"batch n/100","r":6,"x":46,"y":0.0015},{"s":"batch n/100","r":6,"x":48,"y":0.00109},{"s":"batch n/100","r":6,"x":50,"y":0.00154},{"s":"batch n/100","r":6,"x":52,"y":0.00092},{"s":"batch n/100","r":6,"x":54,"y":0.00124},{"s":"batch n/100","r":6,"x":56,"y":0.00136},{"s":"batch n/100","r":6,"x":58,"y":0.00116},{"s":"batch n/100","r":6,"x":60,"y":0.00093},{"s":"batch n/100","r":6,"x":62,"y":0.00143},{"s":"batch n/100","r":6,"x":64,"y":0.00101},{"s":"batch n/100","r":6,"x":66,"y":0.00125},{"s":"batch n/100","r":6,"x":68,"y":0.0015},{"s":"batch n/100","r":6,"x":70,"y":0.00105},{"s":"batch n/100","r":6,"x":72,"y":0.0014},{"s":"batch n/100","r":6,"x":74,"y":0.00118},{"s":"batch n/100","r":6,"x":76,"y":0.00098},{"s":"batch n/100","r":6,"x":78,"y":0.00133},{"s":"batch n/100","r":6,"x":80,"y":0.00111},{"s":"batch n/100","r":6,"x":82,"y":0.00087},{"s":"batch n/100","r":6,"x":84,"y":0.00125},{"s":"batch n/100","r":6,"x":86,"y":0.00137},{"s":"batch n/100","r":6,"x":88,"y":0.00104},{"s":"batch n/100","r":6,"x":90,"y":0.00116},{"s":"batch n/100","r":6,"x":92,"y":0.00095},{"s":"batch n/100","r":6,"x":94,"y":0.00107},{"s":"batch n/100","r":6,"x":96,"y":0.0012},{"s":"batch n/100","r":6,"x":98,"y":0.00117},{"s":"batch n/100","r":6,"x":100,"y":0.0011}
]},
"encoding":{
"x":{"field":"x","type":"quantitative","scale":{"domain":[-4.9,104.4],"nice":false,"zero":false},
"axis":{"values":[0,20,40,60,80,100],"tickSize":7,"labelFontSize":17,"labelPadding":3,"title":"#epochs (log scale)","titleFontSize":25.5,"titlePadding":10}},
"y":{"field":"y","type":"quantitative","scale":{"type":"log","domain":[0.000336,3.08],"nice":false},
"axis":{"values":[0.0004,0.0005,0.0006,0.0007,0.0008,0.0009,0.001,0.002,0.003,0.004,0.005,0.006,0.007,0.008,0.009,0.01,0.02,0.03,0.04,0.05,0.06,0.07,0.08,0.09,0.1,0.2,0.3,0.4,0.5,0.6,0.7,0.8,0.9,1,2,3],
"labelExpr":"datum.value == 1 ? '10⁰' : datum.value == 0.1 ? '10⁻¹' : datum.value == 0.01 ? '10⁻²' : datum.value == 0.001 ? '10⁻³' : ''",
"tickSize":{"condition":{"test":"datum.value == 1 || datum.value == 0.1 || datum.value == 0.01 || datum.value == 0.001","value":7},"value":4},
"labelFontSize":17,"labelPadding":7,"labelOverlap":false,"title":"Objective (log scale)","titleFontSize":25.5,"titlePadding":14}},
"color":{"field":"s","type":"nominal","scale":{"domain":["SG","batch n/100","batch n/2","batch n"],"range":["#FFA500","#008000","#FF0000","#0000FF"]},
"legend":{"title":null,"orient":"none","legendX":477,"legendY":9.5,"fillColor":"white","strokeColor":"#cccccc","cornerRadius":4,"padding":8,"symbolType":"stroke","symbolSize":1681,"symbolStrokeWidth":3.5,"labelFontSize":18.5,"labelColor":"black","labelOffset":9,"clipHeight":20,"rowPadding":8}},
"detail":{"field":"r","type":"nominal"}
},
"layer":[
{"transform":[{"filter":{"field":"s","oneOf":["batch n/2","batch n"]}}],
"mark":{"type":"line","strokeWidth":3.5,"strokeJoin":"round","interpolate":"monotone","clip":true}},
{"transform":[{"filter":{"field":"s","oneOf":["SG","batch n/100"]}}],
"mark":{"type":"line","strokeWidth":3.5,"strokeJoin":"round","clip":true}}
]
}
